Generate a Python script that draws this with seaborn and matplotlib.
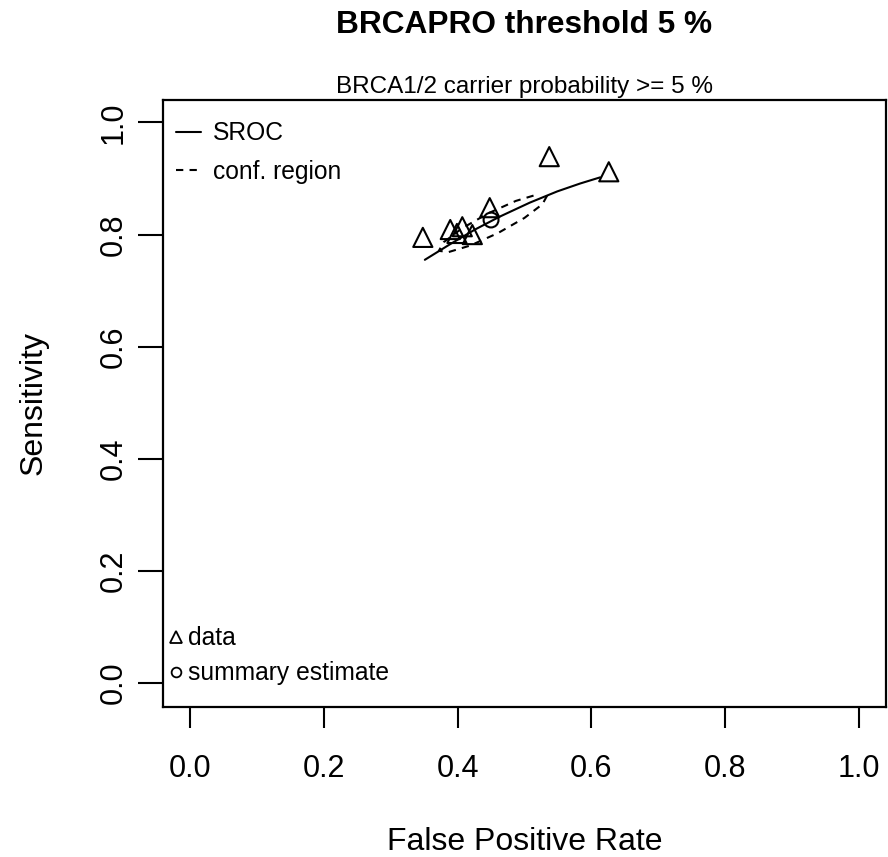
import numpy as np
import pandas as pd
import matplotlib
matplotlib.use("Agg")
import matplotlib.pyplot as plt
import seaborn as sns
from matplotlib.lines import Line2D

# ---- data ----
data_fpr = [0.348, 0.537, 0.626, 0.448, 0.407, 0.389, 0.399, 0.422]
data_sens = [0.795, 0.939, 0.912, 0.848, 0.814, 0.809, 0.802, 0.800]

summary_fpr = [0.450]
summary_sens = [0.826]

sroc_fpr = [0.351, 0.389, 0.426, 0.463, 0.508, 0.549, 0.583, 0.613]
sroc_sens = [0.755, 0.783, 0.809, 0.832, 0.857, 0.877, 0.891, 0.902]

conf_fpr = [0.5338, 0.5268, 0.4998, 0.4604, 0.4188, 0.3865, 0.3720,
            0.3791, 0.4060, 0.4454, 0.4870, 0.5193, 0.5338]
conf_sens = [0.8694, 0.8541, 0.8296, 0.8027, 0.7804, 0.7688, 0.7710,
             0.7863, 0.8107, 0.8377, 0.8600, 0.8716, 0.8694]

ticks = [0.0, 0.2, 0.4, 0.6, 0.8, 1.0]
tick_labels = ["0.0", "0.2", "0.4", "0.6", "0.8", "1.0"]

title = "BRCAPRO threshold 5 %"
subtitle = "BRCA1/2 carrier probability >= 5 %"

# ---- style ----
sns.set_style("white")
plt.rcParams["font.family"] = ["Liberation Sans", "DejaVu Sans"]
plt.rcParams["text.color"] = "black"
plt.rcParams["axes.labelcolor"] = "black"
plt.rcParams["xtick.color"] = "black"
plt.rcParams["ytick.color"] = "black"

W, H = 888, 857
fig = plt.figure(figsize=(W / 100, H / 100), dpi=100)
ax_l, ax_r, ax_t, ax_b = 163.3, 885.7, 100.0, 706.7
ax = fig.add_axes([ax_l / W, 1 - ax_b / H, (ax_r - ax_l) / W, (ax_b - ax_t) / H])
axw, axh = ax_r - ax_l, ax_b - ax_t

df_data = pd.DataFrame({"fpr": data_fpr, "sens": data_sens})
df_sum = pd.DataFrame({"fpr": summary_fpr, "sens": summary_sens})
df_sroc = pd.DataFrame({"fpr": sroc_fpr, "sens": sroc_sens})
df_conf = pd.DataFrame({"fpr": conf_fpr, "sens": conf_sens})

lw = 1.5
dash = (0, (3.5, 3))
sns.lineplot(data=df_sroc, x="fpr", y="sens", sort=False, color="black", lw=lw, ax=ax)
sns.lineplot(data=df_conf, x="fpr", y="sens", sort=False, color="black", lw=lw, ax=ax)
ax.lines[-1].set_linestyle(dash)
sns.scatterplot(data=df_data, x="fpr", y="sens", marker="^", s=190,
                facecolor="none", edgecolor="black", linewidth=1.5, ax=ax)
sns.scatterplot(data=df_sum, x="fpr", y="sens", marker="o", s=115,
                facecolor="none", edgecolor="black", linewidth=1.5, ax=ax)

ax.set_xlim(-0.04, 1.04)
ax.set_ylim(-0.042, 1.04)
ax.set_xticks(ticks)
ax.set_xticklabels(tick_labels)
ax.set_yticks(ticks)
ax.set_yticklabels(tick_labels, rotation=90, va="center")
ax.tick_params(axis="x", length=15, width=1.5, pad=19, labelsize=22, direction="out", bottom=True)
ax.tick_params(axis="y", length=18, width=1.5, pad=7, labelsize=22, direction="out", left=True)
for sp in ax.spines.values():
    sp.set_linewidth(1.6)
    sp.set_color("black")

ax.set_xlabel("False Positive Rate", fontsize=23, labelpad=31)
ax.set_ylabel("Sensitivity", fontsize=23, labelpad=36)

fig.text(524.5 / W, 1 - 25 / H, title, ha="center", va="center",
         fontsize=22.8, fontweight="bold")
fig.text(524.5 / W, 1 - 87 / H, subtitle, ha="center", va="center", fontsize=17.5)

# legends
h1 = [Line2D([], [], color="black", lw=lw),
      Line2D([], [], color="black", lw=lw, linestyle=dash)]
leg1 = ax.legend(h1, ["SROC", "conf. region"], loc="upper left", frameon=False,
                 fontsize=17.7, handlelength=1.0, handletextpad=0.5,
                 labelspacing=0.58, borderaxespad=0, borderpad=0,
                 bbox_to_anchor=(12.7 / axw, 1 - 21.5 / axh))
ax.add_artist(leg1)
h2 = [Line2D([], [], color="black", marker="^", markersize=9, markerfacecolor="none",
             markeredgewidth=1.3, linestyle="none"),
      Line2D([], [], color="black", marker="o", markersize=7, markerfacecolor="none",
             markeredgewidth=1.3, linestyle="none")]
leg2 = ax.legend(h2, ["data", "summary estimate"], loc="lower left", frameon=False,
                 fontsize=17.7, handlelength=0.5, handletextpad=0.22,
                 labelspacing=0.45, borderaxespad=0, borderpad=0,
                 bbox_to_anchor=(6.7 / axw, 21.4 / axh))

fig.savefig("out.png", dpi=100)
